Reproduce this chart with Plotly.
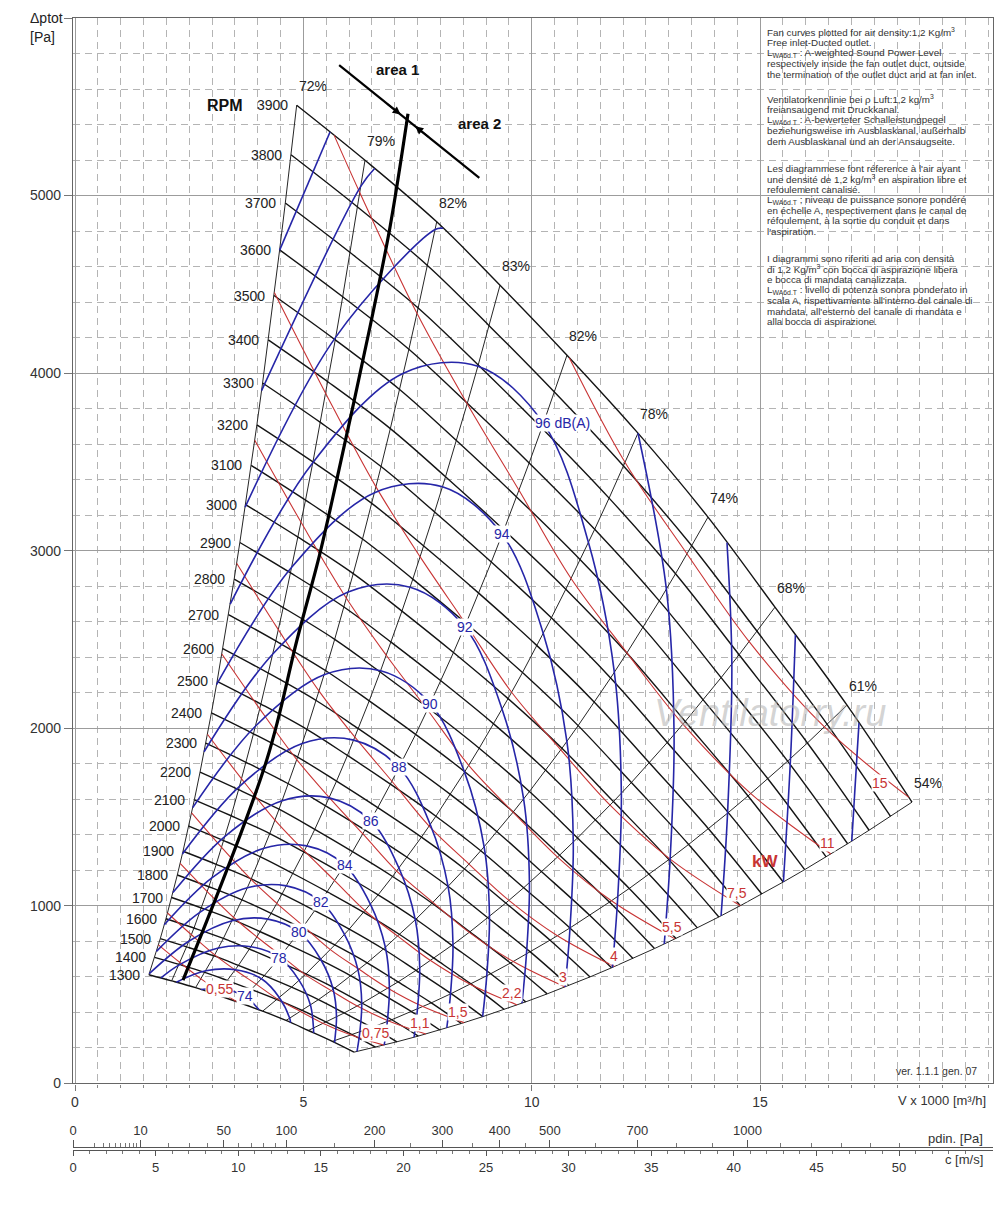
import numpy as np
import plotly.graph_objects as go

FONT = "Liberation Sans, Arial, Helvetica, sans-serif"

# ---------------- values ----------------
ref_rpm = 3900
rpm_values = [1300, 1400, 1500, 1600, 1700, 1800, 1900, 2000, 2100, 2200, 2300, 2400,
              2500, 2600, 2700, 2800, 2900, 3000, 3100, 3200, 3300, 3400, 3500, 3600,
              3700, 3800, 3900]

# points where each efficiency line meets the 3900 rpm curve
eff_labels = ["72%", "79%", "82%", "83%", "82%", "78%", "74%", "68%", "61%", "54%"]
eff_values = [72, 79, 82, 83, 82, 78, 74, 68, 61, 54]
ref_flow = [4.854, 6.350, 7.920, 9.306, 10.773, 12.327, 13.860, 15.327, 16.904, 18.327]  # x1000 m3/h
ref_pressure = [5509, 5199, 4852, 4495, 4101, 3662, 3189, 2682, 2130, 1584]             # Pa

# sound power curves (dB(A)); rpm at which the 96 dB(A) curve crosses each efficiency line
sound_levels = [74, 76, 78, 80, 82, 84, 86, 88, 90, 92, 94, 96, 98, 100, 102, 104]
sound_label_text = ["74", "", "78", "80", "82", "84", "86", "88", "90", "92", "94",
                    "96 dB(A)", "", "", "", ""]
sound96_rpm = [2730, 3198, 3541, 3697, 3713, 3557, 3323, 3044, 2742, 2504]

# absorbed power curves (kW)
power_kw = [0.55, 0.75, 1.1, 1.5, 2.2, 3, 4, 5.5, 7.5, 11, 15]
power_labels = ["0,55", "0,75", "1,1", "1,5", "2,2", "3", "4", "5,5", "7,5", "11", "15"]

# thick limit line and area separator
stall_flow = [2.365, 4.198, 4.86, 5.365, 5.730, 6.459, 6.897, 7.291]
stall_pressure = [582, 1821, 2497, 2987, 3398, 4260, 4822, 5461]
area_flow = [5.784, 8.853]
area_pressure = [5734, 5100]

# axis ticks
x_ticks = [0, 5, 10, 15]
y_ticks = [0, 1000, 2000, 3000, 4000, 5000, 6000]
y_ticktext = ["0", "1000", "2000", "3000", "4000", "5000", ""]
pdin_major = [0, 10, 50, 100, 200, 300, 400, 500, 700, 1000]
pdin_minor = [1, 2, 3, 4, 5, 6, 7, 8, 9, 20, 30, 40, 60, 70, 80, 90, 150, 250, 350, 450,
              600, 800, 900, 1100, 1200, 1300, 1400, 1500]
c_major = [0, 5, 10, 15, 20, 25, 30, 35, 40, 45, 50]
c_minor = [v for v in range(1, 55) if v % 5]
air_density = 1.2

# ---------------- styling ----------------
BLACK = "#141414"
BLUE = "#2626a8"
RED = "#c83434"
W, H = 1000, 1218
ML, MR, MT, MB = 60, 7, 18, 38
PLOT_LEFT = 73          # frame starts here; V = 0 sits at 75 px
V_ZERO_PX = 75
PX_PER_V = 45.67
PAPER_BOTTOM = H - MB
PAPER_H = PAPER_BOTTOM - MT
PAPER_W = W - ML - MR
Y_AXIS_PX = 1083.4
C_ZERO_PX = 73
C_50_PX = 899


def px_x(px):
    return (px - ML) / PAPER_W


def px_y(py):
    return (PAPER_BOTTOM - py) / PAPER_H


n_rays = len(ref_flow)
lo = rpm_values[0] / ref_rpm
hi = rpm_values[-1] / ref_rpm


def ray_point(i, s):
    return ref_flow[i] * s, ref_pressure[i] * s * s


def clip(svals):
    segs, cur = [], []
    for i in range(n_rays):
        if i > 0:
            a, b = svals[i - 1], svals[i]
            cr = []
            for bound in (lo, hi):
                if (a - bound) * (b - bound) < 0:
                    cr.append(((bound - a) / (b - a), bound))
            for f, bound in sorted(cr):
                xr = ref_flow[i - 1] + f * (ref_flow[i] - ref_flow[i - 1])
                yr = ref_pressure[i - 1] + f * (ref_pressure[i] - ref_pressure[i - 1])
                p = (xr * bound, yr * bound * bound)
                if cur:
                    cur.append(p)
                    segs.append(cur)
                    cur = []
                else:
                    cur = [p]
        if lo - 1e-9 <= svals[i] <= hi + 1e-9:
            cur.append(ray_point(i, svals[i]))
    if cur:
        segs.append(cur)
    return [sg for sg in segs if len(sg) > 1]


fig = go.Figure()
ann = []

# efficiency lines
for i in range(n_rays):
    xs = [ref_flow[i] * r / ref_rpm for r in rpm_values]
    ys = [ref_pressure[i] * (r / ref_rpm) ** 2 for r in rpm_values]
    fig.add_trace(go.Scatter(x=xs, y=ys, mode="lines", line=dict(color="#262626", width=1.0),
                             hoverinfo="skip", showlegend=False))
    ann.append(dict(x=ref_flow[i], y=ref_pressure[i], text=eff_labels[i], showarrow=False,
                    xshift=16, yshift=19, font=dict(size=14, color="#222", family=FONT)))

# rpm curves
for r in rpm_values:
    s = r / ref_rpm
    xs = [f * s for f in ref_flow]
    ys = [p * s * s for p in ref_pressure]
    fig.add_trace(go.Scatter(x=xs, y=ys, mode="lines", line=dict(color=BLACK, width=1.4, shape="spline"),
                             hoverinfo="skip", showlegend=False))
    ann.append(dict(x=xs[0], y=ys[0], text=str(r), showarrow=False, xanchor="right", xshift=-7,
                    font=dict(size=14, color="#222", family=FONT)))

ann.append(dict(x=ref_flow[0], y=ref_pressure[0], text="<b>RPM</b>", showarrow=False, xshift=-72,
                font=dict(size=16, color="#111", family=FONT)))

# power curves
power_ref = [ref_flow[i] * ref_pressure[i] / (36.0 * eff_values[i]) for i in range(n_rays)]
power_dx = [-17, -8, -6, -6, -5, -2, -1, -3, -3, -3, -29]
power_dy = [13, 12, 11, 11, 12, 10, 11, 12, 13, 11, 14]
for k, pw in enumerate(power_kw):
    svals = [(pw / pr) ** (1.0 / 3.0) for pr in power_ref]
    segs = clip(svals)
    for sg in segs:
        fig.add_trace(go.Scatter(x=[p[0] for p in sg], y=[p[1] for p in sg], mode="lines",
                                 line=dict(color=RED, width=1.1, shape="spline"),
                                 hoverinfo="skip", showlegend=False))
    end = segs[-1][-1]
    ann.append(dict(x=end[0], y=end[1], text=power_labels[k], showarrow=False,
                    xshift=power_dx[k], yshift=power_dy[k], bgcolor="white", borderpad=0,
                    font=dict(size=14, color=RED, family=FONT)))

# sound curves
LABEL_RAY = 4
for k, L in enumerate(sound_levels):
    factor = 10 ** ((L - 96) / 50.0)
    svals = [r / ref_rpm * factor for r in sound96_rpm]
    for sg in clip(svals):
        fig.add_trace(go.Scatter(x=[p[0] for p in sg], y=[p[1] for p in sg], mode="lines",
                                 line=dict(color=BLUE, width=1.6, shape="spline"),
                                 hoverinfo="skip", showlegend=False))
    txt = sound_label_text[k]
    s4 = svals[LABEL_RAY]
    if txt and lo <= s4 <= hi:
        px_, py_ = ray_point(LABEL_RAY, s4)
        wide = len(txt) > 3
        ann.append(dict(x=px_, y=py_, text=txt, showarrow=False,
                        xanchor="left" if wide else "center", xshift=-9 if wide else 0,
                        bgcolor="white", borderpad=0,
                        font=dict(size=14, color=BLUE, family=FONT)))

# limit line and area separator
fig.add_trace(go.Scatter(x=stall_flow, y=stall_pressure, mode="lines",
                         line=dict(color="#000", width=3.2, shape="spline"),
                         hoverinfo="skip", showlegend=False))
fig.add_trace(go.Scatter(x=area_flow, y=area_pressure, mode="lines",
                         line=dict(color="#000", width=2.2), hoverinfo="skip", showlegend=False))

slope = (area_pressure[1] - area_pressure[0]) / (area_flow[1] - area_flow[0])
for xa, axo, ayo in ((7.13, -15, -12), (7.45, 15, 12)):
    ann.append(dict(x=xa, y=area_pressure[0] + (xa - area_flow[0]) * slope, text="",
                    showarrow=True, arrowhead=2, arrowsize=1, arrowwidth=1.6, arrowcolor="#000",
                    ax=axo, ay=ayo))

ann.append(dict(x=7.07, y=5712, text="<b>area 1</b>", showarrow=False,
                font=dict(size=15, color="#111", family=FONT)))
ann.append(dict(x=8.85, y=5408, text="<b>area 2</b>", showarrow=False,
                font=dict(size=15, color="#111", family=FONT)))
ann.append(dict(x=15.11, y=1247, text="<b>kW</b>", showarrow=False,
                font=dict(size=17, color=RED, family=FONT)))
ann.append(dict(x=15.22, y=2085, text="<i>Ventilatorry.ru</i>", showarrow=False,
                font=dict(size=38, color="rgba(175,175,175,0.55)", family=FONT)))

# dummy traces for the extra scales
fig.add_trace(go.Scatter(x=[None], y=[None], xaxis="x2", yaxis="y", showlegend=False, hoverinfo="skip"))
fig.add_trace(go.Scatter(x=[None], y=[None], xaxis="x3", yaxis="y", showlegend=False, hoverinfo="skip"))

# texts outside the plot
paper = dict(xref="paper", yref="paper", showarrow=False, yanchor="middle")
ann.append(dict(**paper, x=px_x(28), y=px_y(18), xanchor="left", text="\u0394ptot",
                font=dict(size=14, color="#222", family=FONT)))
ann.append(dict(**paper, x=px_x(28), y=px_y(37), xanchor="left", text="[Pa]",
                font=dict(size=14, color="#222", family=FONT)))
ann.append(dict(**paper, x=px_x(988), y=px_y(1100), xanchor="right", text="V x 1000 [m\u00b3/h]",
                font=dict(size=13, color="#333", family=FONT)))
ann.append(dict(**paper, x=px_x(985), y=px_y(1138), xanchor="right", text="pdin. [Pa]",
                font=dict(size=13, color="#333", family=FONT)))
ann.append(dict(**paper, x=px_x(985), y=px_y(1159), xanchor="right", text="c [m/s]",
                font=dict(size=13, color="#333", family=FONT)))
ann.append(dict(**paper, x=px_x(979), y=px_y(1071), xanchor="right", text="ver. 1.1.1 gen. 07",
                font=dict(size=10.5, color="#333", family=FONT)))

text_block = [
    [
        "Fan curves plotted for air density:1,2 Kg/m<sup>3</sup>",
        "Free inlet-Ducted outlet.",
        "L<sub>WA6d.T</sub> : A-weighted Sound Power Level",
        "respectively inside the fan outlet duct, outside",
        "the termination of the outlet duct and at fan inlet.",
    ],
    [
        "Ventilatorkennlinie bei \u03c1 Luft:1,2 kg/m<sup>3</sup>",
        "freiansaugend mit Druckkanal.",
        "L<sub>WA6d.T</sub> : A-bewerteter Schalleistungpegel",
        "beziehungsweise im Ausblaskanal, au\u00dferhalb",
        "dem Ausblaskanal und an der Ansaugseite.",
    ],
    [
        "Les diagrammese font r\u00e9ference \u00e0 l'air ayant",
        "une densit\u00e9 de 1,2 kg/m<sup>3</sup> en aspiration libre et",
        "refoulement canalis\u00e9.",
        "L<sub>WA6d.T</sub> ; niveau de puissance sonore pond\u00e9r\u00e9",
        "en \u00e9chelle A, respectivement dans le canal de",
        "r\u00e9foulement, \u00e0 la sortie du conduit et dans",
        "l'aspiration.",
    ],
    [
        "I diagrammi sono riferiti ad aria con densit\u00e0",
        "di 1,2 Kg/m<sup>3</sup> con bocca di aspirazione libera",
        "e bocca di mandata canalizzata.",
        "L<sub>WA6d.T</sub> : livello di potenza sonora ponderato in",
        "scala A, rispettivamente all'interno del canale di",
        "mandata, all'esterno del canale di mandata e",
        "alla bocca di aspirazione.",
    ],
]
para_start = [32, 99, 168, 258]
LINE_H = 10.6
for pi, para in enumerate(text_block):
    for li, line in enumerate(para):
        ann.append(dict(**paper, x=px_x(765), y=px_y(para_start[pi] + li * LINE_H), xanchor="left",
                        text=line, font=dict(size=9.8, color="#333", family=FONT)))

# ---------------- layout ----------------
x_range = [(PLOT_LEFT - V_ZERO_PX) / PX_PER_V, (W - MR - V_ZERO_PX) / PX_PER_V]
c_per_px = 50.0 / (C_50_PX - C_ZERO_PX)
c_range = [(PLOT_LEFT - C_ZERO_PX) * c_per_px, (W - MR - C_ZERO_PX) * c_per_px]
ydom0 = px_y(Y_AXIS_PX)
xdom0 = px_x(PLOT_LEFT)

fig.update_layout(
    width=W, height=H, margin=dict(l=ML, r=MR, t=MT, b=MB),
    paper_bgcolor="white", plot_bgcolor="white", showlegend=False,
    font=dict(family=FONT, color="#222"),
    annotations=ann,
    xaxis=dict(domain=[xdom0, 1], range=x_range, anchor="y", tickmode="array", tickvals=x_ticks,
               ticks="outside", ticklen=6, tickcolor="#777", tickfont=dict(size=14, color="#333"),
               showgrid=True, gridcolor="#9c9c9c", gridwidth=1, zeroline=False,
               showline=True, linecolor="#666", linewidth=1.4, mirror=True,
               minor=dict(tickmode="linear", tick0=0, dtick=0.5, showgrid=True, gridcolor="#b4b4b4",
                          griddash="7px,5px", gridwidth=1, ticks="outside", ticklen=3, tickcolor="#888")),
    yaxis=dict(domain=[ydom0, 1], range=[0, 6000], anchor="x", tickmode="array", tickvals=y_ticks,
               ticktext=y_ticktext, ticks="outside", ticklen=8, tickcolor="#777",
               tickfont=dict(size=14, color="#333"),
               showgrid=True, gridcolor="#9c9c9c", gridwidth=1, zeroline=False,
               showline=True, linecolor="#666", linewidth=1.2, mirror=True,
               minor=dict(tickmode="linear", tick0=0, dtick=200, showgrid=True, gridcolor="#b4b4b4",
                          griddash="7px,5px", gridwidth=1)),
    xaxis2=dict(overlaying="x", anchor="free", position=px_y(1150), side="bottom", range=c_range,
                tickmode="array", tickvals=c_major, ticks="outside", ticklen=5, tickcolor="#555",
                tickfont=dict(size=13, color="#333"), showgrid=False, zeroline=False,
                showline=True, linecolor="#555", linewidth=1.4,
                minor=dict(tickmode="array", tickvals=c_minor, ticks="outside", ticklen=3,
                           tickcolor="#777", showgrid=False)),
    xaxis3=dict(overlaying="x", anchor="free", position=px_y(1147), side="top", range=c_range,
                tickmode="array", tickvals=[np.sqrt(2 * p / air_density) for p in pdin_major],
                ticktext=[str(p) for p in pdin_major], ticks="outside", ticklen=7, tickcolor="#555",
                tickfont=dict(size=13, color="#333"), showgrid=False, zeroline=False,
                showline=True, linecolor="#555", linewidth=1.4,
                minor=dict(tickmode="array", tickvals=[np.sqrt(2 * p / air_density) for p in pdin_minor],
                           ticks="outside", ticklen=4, tickcolor="#777", showgrid=False)),
)

fig.write_html("out.html", config={"displayModeBar": False},
               post_script="document.body.style.margin='0';")
